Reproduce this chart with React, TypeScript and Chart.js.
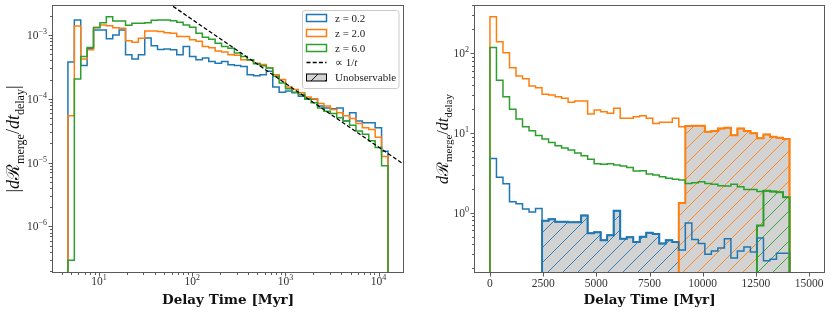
import React, { useEffect, useRef } from "react";
import { Chart, registerables } from "chart.js";
Chart.register(...registerables);

// ---------------- data ----------------
const seriesLabels = ["z = 0.2", "z = 2.0", "z = 6.0"];
const BLUE = "#1f77b4";
const ORANGE = "#ff7f0e";
const GREEN = "#2ca02c";

// left panel: 50 log-spaced bins
const LEFT_EDGE_MIN = 4.64;
const LEFT_EDGE_MAX = 12620;
const LEFT_BINS = 50;

const leftBlue = [3.76e-4, 1.71e-3, 3.33e-4, 6.2e-4, 1.2e-3, 1.2e-3, 8.7e-4, 1.0e-3, 1.2e-3, 4.9e-4,
  4.2e-4, 4.9e-4, 9.0e-4, 6.8e-4, 5.9e-4, 6.05e-4, 5.85e-4, 4.9e-4, 6.6e-4, 4.6e-4,
  4.1e-4, 4.34e-4, 3.85e-4, 3.62e-4, 3.85e-4, 3.41e-4, 3.33e-4, 3.22e-4, 2.39e-4, 2.3e-4,
  2.39e-4, 2.69e-4, 1.53e-4, 1.27e-4, 1.32e-4, 1.24e-4, 1.1e-4, 1.0e-4, 9.8e-5, 7.7e-5,
  7.2e-5, 7.0e-5, 7.2e-5, 4.5e-5, 6.05e-5, 4.5e-5, 4.2e-5, 4.2e-5, 3.5e-5, 1.5e-5];

const leftOrange = [5.4e-5, 1.38e-3, 4.2e-4, 5.85e-4, 1.32e-3, 1.43e-3, 1.4e-3, 1.3e-3, 1.27e-3, 8.1e-4,
  7.7e-4, 8.9e-4, 1.15e-3, 1.15e-3, 1.13e-3, 1.08e-3, 1.06e-3, 9.5e-4, 9.5e-4, 8.4e-4,
  8.0e-4, 6.6e-4, 6.3e-4, 5.6e-4, 5.4e-4, 4.9e-4, 4.8e-4, 4.1e-4, 4.0e-4, 3.6e-4,
  3.45e-4, 3.03e-4, 2.39e-4, 2.0e-4, 1.53e-4, 1.4e-4, 1.24e-4, 1.07e-4, 1.0e-4, 8.45e-5,
  7.7e-5, 6.8e-5, 6.05e-5, 5.4e-5, 4.9e-5, 4.1e-5, 3.5e-5, 3.3e-5, 2.5e-5, 1.25e-5];

const leftGreen = [2.95e-7, 2.04e-4, 4.6e-4, 6.35e-4, 1.3e-3, 1.55e-3, 1.93e-3, 1.65e-3, 1.65e-3, 1.42e-3,
  1.52e-3, 1.52e-3, 1.56e-3, 1.7e-3, 1.71e-3, 1.71e-3, 1.67e-3, 1.59e-3, 1.43e-3, 1.32e-3,
  1.06e-3, 9.2e-4, 8.6e-4, 7.4e-4, 6.6e-4, 6.2e-4, 5.2e-4, 4.6e-4, 4.1e-4, 3.54e-4,
  3.3e-4, 3.03e-4, 2.25e-4, 1.77e-4, 1.43e-4, 1.27e-4, 1.17e-4, 9.8e-5, 8.65e-5, 7.2e-5,
  6.4e-5, 5.9e-5, 5.06e-5, 4.5e-5, 3.84e-5, 3.14e-5, 2.79e-5, 2.19e-5, 1.73e-5, 8.95e-6];

// reference 1/t line (two end points)
const powerLawT = [20, 20000];
const powerLawRate = [8.75e-3, 8.75e-6];

// right panel: 49 linear bins from 0 to 15000 Myr
const RIGHT_EDGE_MAX = 15000;
const RIGHT_BINS = 49;

const rightBlue = [4.8, 2.78, 2.3, 1.37, 1.29, 1.11, 1.02, 1.13, 0.79, 0.83,
  0.77, 0.77, 0.76, 0.76, 0.92, 0.55, 0.57, 0.45, 0.52, 1.06,
  0.47, 0.49, 0.43, 0.5, 0.56, 0.54, 0.41, 0.45, 0.43, 0.34,
  0.74, 0.46, 0.41, 0.3, 0.33, 0.36, 0.47, 0.27, 0.33, 0.37,
  0.32, 0.48, 0.25, 0.26, 0.31, 0.31, 0, 0, 0];

const rightOrange = [288, 140, 102, 66, 52, 48, 39, 37, 30.6, 30.0,
  28.6, 27.2, 24.3, 25.2, 25.2, 17.3, 19.4, 18.5, 17.7, 20.4,
  15.3, 15.3, 16.0, 16.5, 15.3, 13.2, 13.6, 13.6, 15.3, 12.0,
  12.2, 12.3, 12.3, 10.4, 10.6, 11.4, 11.6, 9.4, 11.4, 10.6,
  9.9, 8.6, 9.6, 9.0, 8.7, 8.4, 0, 0, 0];

const rightGreen = [118, 46, 28.6, 19.8, 15, 12, 10.7, 9.3, 8.4, 7.6,
  6.9, 6.5, 6.1, 5.6, 5.2, 4.67, 4.1, 4.05, 4.1, 3.97,
  3.85, 3.7, 3.33, 3.35, 3.05, 2.97, 2.83, 2.7, 2.62, 2.57,
  2.33, 2.38, 2.45, 2.33, 2.27, 2.18, 2.16, 2.27, 2.12, 1.96,
  1.96, 1.84, 1.89, 1.85, 1.8, 1.56, 0, 0, 0];

// unobservable regions (first bin index, value of partially-covered first bin)
const blueUnobsBin = 8;
const orangeUnobsBin = 29;
const orangeUnobsFirst = 1.32;
const greenUnobsBin = 41;
const greenUnobsFirst = 0.69;

// ticks
const leftXMajor = [10, 100, 1000, 10000];
const leftXLabels = [["10", "1"], ["10", "2"], ["10", "3"], ["10", "4"]];
const leftYMajor = [1e-6, 1e-5, 1e-4, 1e-3];
const leftYLabels = [["10", "\u22126"], ["10", "\u22125"], ["10", "\u22124"], ["10", "\u22123"]];
const rightXTicks = [0, 2500, 5000, 7500, 10000, 12500, 15000];
const rightYMajor = [1, 10, 100];
const rightYLabels = [["10", "0"], ["10", "1"], ["10", "2"]];

// ---------------- helpers ----------------
const SERIF = '"Liberation Serif", "Times New Roman", serif';
const TITLE = '"DejaVu Serif", serif';
const FRAME = "#5a5a5a";
const TICKTXT = "#333333";

const leftEdges = Array.from({ length: LEFT_BINS + 1 }, (_, i) =>
  LEFT_EDGE_MIN * Math.pow(LEFT_EDGE_MAX / LEFT_EDGE_MIN, i / LEFT_BINS));
const rightEdges = Array.from({ length: RIGHT_BINS + 1 }, (_, i) => (RIGHT_EDGE_MAX * i) / RIGHT_BINS);

function stepPoints(edges: number[], values: number[], base: number) {
  const pts = [{ x: edges[0], y: base }];
  values.forEach((v, i) => pts.push({ x: edges[i], y: v > 0 ? v : base }));
  pts.push({ x: edges[edges.length - 1], y: base });
  return pts;
}

function unobs(values: number[], start: number, first?: number) {
  return values.map((v, i) => (i < start ? 0 : i === start && first !== undefined ? first : v));
}

function minorLog(lo: number, hi: number) {
  const out: number[] = [];
  for (let e = Math.floor(Math.log10(lo)); e <= Math.ceil(Math.log10(hi)); e++) {
    for (let m = 2; m <= 9; m++) {
      const v = m * Math.pow(10, e);
      if (v >= lo && v <= hi) out.push(v);
    }
  }
  return out;
}

function hatch(color: string, bg: string, s = 15) {
  const c = document.createElement("canvas");
  c.width = s;
  c.height = s;
  const g = c.getContext("2d")!;
  g.fillStyle = bg;
  g.fillRect(0, 0, s, s);
  g.strokeStyle = color;
  g.lineWidth = 0.9;
  g.beginPath();
  for (const k of [-1, 0, 1]) {
    g.moveTo(k * s, s);
    g.lineTo(k * s + s, 0);
  }
  g.stroke();
  return g.createPattern(c, "repeat")!;
}

type Seg = { t: string; f: string; dy?: number };

function drawPow(ctx: CanvasRenderingContext2D, base: string, exp: string, x: number, y: number, align: string) {
  ctx.font = `11.5px ${SERIF}`;
  const wb = ctx.measureText(base).width;
  ctx.font = `8px ${SERIF}`;
  const we = ctx.measureText(exp).width;
  const tot = wb + we;
  const sx = align === "center" ? x - tot / 2 : x - tot;
  ctx.textAlign = "left";
  ctx.font = `11.5px ${SERIF}`;
  ctx.fillText(base, sx, y);
  ctx.font = `8px ${SERIF}`;
  ctx.fillText(exp, sx + wb, y - 5);
}

function drawRich(ctx: CanvasRenderingContext2D, segs: Seg[], cx: number, cy: number) {
  ctx.save();
  ctx.translate(cx, cy);
  ctx.rotate(-Math.PI / 2);
  let tot = 0;
  for (const s of segs) {
    ctx.font = s.f;
    tot += ctx.measureText(s.t).width;
  }
  let x = -tot / 2;
  ctx.textAlign = "left";
  ctx.fillStyle = "#111";
  for (const s of segs) {
    ctx.font = s.f;
    ctx.fillText(s.t, x, 5 + (s.dy || 0));
    x += ctx.measureText(s.t).width;
  }
  ctx.restore();
}

function ySegs(size: number, bars: boolean): Seg[] {
  const n = `${size}px ${SERIF}`;
  const it = `italic ${size}px ${SERIF}`;
  const sub = `${Math.round(size * 0.68)}px ${SERIF}`;
  const dy = size * 0.25;
  const segs: Seg[] = [
    { t: "d", f: it },
    { t: "\u211B", f: `${size}px ${TITLE}` },
    { t: "merge", f: sub, dy },
    { t: "/", f: n },
    { t: "dt", f: it },
    { t: "delay", f: sub, dy },
  ];
  if (bars) return [{ t: "|", f: n }, ...segs, { t: "|", f: n }];
  return segs;
}

function decor(cfg: {
  id: string;
  xMajor: number[];
  xLabels: (string[] | string)[];
  xMinor: number[];
  yMajor: number[];
  yLabels: string[][];
  yMinor: number[];
  yTitle: Seg[];
  yTitleX: number;
  legend?: boolean;
}) {
  return {
    id: cfg.id,
    afterDraw(chart: any) {
      const { ctx, chartArea: ca, scales } = chart;
      const xs = scales.x;
      const ys = scales.y;
      ctx.save();
      ctx.strokeStyle = FRAME;
      ctx.lineWidth = 1;
      ctx.strokeRect(ca.left + 0.5, ca.top + 0.5, ca.right - ca.left - 1, ca.bottom - ca.top - 1);
      const tickX = (v: number, len: number) => {
        const p = Math.round(xs.getPixelForValue(v)) + 0.5;
        ctx.beginPath();
        ctx.moveTo(p, ca.bottom);
        ctx.lineTo(p, ca.bottom + len);
        ctx.stroke();
      };
      const tickY = (v: number, len: number) => {
        const p = Math.round(ys.getPixelForValue(v)) + 0.5;
        ctx.beginPath();
        ctx.moveTo(ca.left, p);
        ctx.lineTo(ca.left - len, p);
        ctx.stroke();
      };
      cfg.xMajor.forEach((v) => tickX(v, 3.5));
      cfg.xMinor.forEach((v) => tickX(v, 2));
      cfg.yMajor.forEach((v) => tickY(v, 3.5));
      cfg.yMinor.forEach((v) => tickY(v, 2));
      ctx.fillStyle = TICKTXT;
      ctx.textBaseline = "alphabetic";
      cfg.xMajor.forEach((v, i) => {
        const p = xs.getPixelForValue(v);
        const lab = cfg.xLabels[i];
        if (Array.isArray(lab)) drawPow(ctx, lab[0], lab[1], p, 285, "center");
        else {
          ctx.font = `11.5px ${SERIF}`;
          ctx.textAlign = "center";
          ctx.fillText(lab, p, 287);
        }
      });
      cfg.yMajor.forEach((v, i) => {
        const p = ys.getPixelForValue(v);
        drawPow(ctx, cfg.yLabels[i][0], cfg.yLabels[i][1], ca.left - 5, p + 4, "right");
      });
      ctx.fillStyle = "#111";
      ctx.font = `bold 13.5px ${TITLE}`;
      ctx.textAlign = "center";
      ctx.fillText("Delay Time [Myr]", (ca.left + ca.right) / 2, 304);
      drawRich(ctx, cfg.yTitle, cfg.yTitleX, (ca.top + ca.bottom) / 2);
      if (cfg.legend) drawLegend(ctx);
      ctx.restore();
    },
  };
}

function drawLegend(ctx: CanvasRenderingContext2D) {
  const x0 = 302.5, y0 = 10.5, w = 96.5, h = 78, r = 2.5;
  ctx.save();
  ctx.beginPath();
  ctx.moveTo(x0 + r, y0);
  ctx.arcTo(x0 + w, y0, x0 + w, y0 + h, r);
  ctx.arcTo(x0 + w, y0 + h, x0, y0 + h, r);
  ctx.arcTo(x0, y0 + h, x0, y0, r);
  ctx.arcTo(x0, y0, x0 + w, y0, r);
  ctx.closePath();
  ctx.fillStyle = "rgba(255,255,255,0.8)";
  ctx.fill();
  ctx.strokeStyle = "#cccccc";
  ctx.lineWidth = 1;
  ctx.stroke();
  const rows = [18, 33, 48, 62.5, 77.5];
  const colors = [BLUE, ORANGE, GREEN];
  const hx = 306.5, hw = 20, tx = 335;
  ctx.font = `11px ${SERIF}`;
  ctx.textAlign = "left";
  for (let i = 0; i < 3; i++) {
    ctx.strokeStyle = colors[i];
    ctx.lineWidth = 1.5;
    ctx.strokeRect(hx, rows[i] - 3.5, hw, 7);
    ctx.fillStyle = "#222";
    ctx.fillText(seriesLabels[i], tx, rows[i] + 3.5);
  }
  ctx.strokeStyle = "#000";
  ctx.lineWidth = 1.3;
  ctx.setLineDash([4, 2.2]);
  ctx.beginPath();
  ctx.moveTo(hx, rows[3]);
  ctx.lineTo(hx + hw, rows[3]);
  ctx.stroke();
  ctx.setLineDash([]);
  ctx.fillStyle = "#222";
  ctx.font = `11px ${SERIF}`;
  const a = "\u221D 1/";
  ctx.fillText(a, tx, rows[3] + 3.5);
  const aw = ctx.measureText(a).width;
  ctx.font = `italic 11px ${SERIF}`;
  ctx.fillText("t", tx + aw, rows[3] + 3.5);
  ctx.fillStyle = hatch("#000", "#d3d3d3", 14);
  ctx.fillRect(hx, rows[4] - 3.5, hw, 7);
  ctx.strokeStyle = "#000";
  ctx.lineWidth = 1;
  ctx.strokeRect(hx, rows[4] - 3.5, hw, 7);
  ctx.fillStyle = "#222";
  ctx.font = `11px ${SERIF}`;
  ctx.fillText("Unobservable", tx, rows[4] + 3.5);
  ctx.restore();
}

function stepDs(data: any[], color: string, order: number, width = 1.5) {
  return {
    data,
    borderColor: color,
    borderWidth: width,
    stepped: "before",
    pointRadius: 0,
    fill: false,
    order,
    borderJoinStyle: "miter",
  };
}

const LXMIN = 3.13, LXMAX = 18750, LYMIN = 1.86e-7, LYMAX = 2.95e-3;
const RXMIN = -750, RXMAX = 15750, RYMIN = 0.175, RYMAX = 404;

function leftConfig(): any {
  return {
    type: "line",
    data: {
      datasets: [
        {
          data: powerLawT.map((t, i) => ({ x: t, y: powerLawRate[i] })),
          borderColor: "#000",
          borderWidth: 1.3,
          borderDash: [4, 2.2],
          pointRadius: 0,
          fill: false,
          order: 0,
        },
        stepDs(stepPoints(leftEdges, leftGreen, 1e-9), GREEN, 1),
        stepDs(stepPoints(leftEdges, leftOrange, 1e-9), ORANGE, 2),
        stepDs(stepPoints(leftEdges, leftBlue, 1e-9), BLUE, 3),
      ],
    },
    options: {
      responsive: false,
      animation: false,
      events: [],
      layout: { padding: { left: 52, top: 5, right: 11, bottom: 41 } },
      plugins: { legend: { display: false }, tooltip: { enabled: false } },
      elements: { line: { tension: 0 } },
      scales: {
        x: { type: "logarithmic", min: LXMIN, max: LXMAX, display: false },
        y: { type: "logarithmic", min: LYMIN, max: LYMAX, display: false },
      },
    },
    plugins: [
      decor({
        id: "decorLeft",
        xMajor: leftXMajor,
        xLabels: leftXLabels,
        xMinor: minorLog(LXMIN, LXMAX),
        yMajor: leftYMajor,
        yLabels: leftYLabels,
        yMinor: minorLog(LYMIN, LYMAX),
        yTitle: ySegs(18, true),
        yTitleX: 14,
        legend: true,
      }),
    ],
  };
}

function rightConfig(): any {
  const base = 0.01;
  const fillDs = (vals: number[], color: string, order: number) => ({
    ...stepDs(stepPoints(rightEdges, vals, base), color, order, 2),
    fill: "start",
    backgroundColor: hatch(color, "#d3d3d3"),
  });
  return {
    type: "line",
    data: {
      datasets: [
        stepDs(stepPoints(rightEdges, rightGreen, base), GREEN, 1),
        stepDs(stepPoints(rightEdges, rightOrange, base), ORANGE, 2),
        stepDs(stepPoints(rightEdges, rightBlue, base), BLUE, 3),
        fillDs(unobs(rightGreen, greenUnobsBin, greenUnobsFirst), GREEN, 4),
        fillDs(unobs(rightOrange, orangeUnobsBin, orangeUnobsFirst), ORANGE, 5),
        fillDs(unobs(rightBlue, blueUnobsBin), BLUE, 6),
      ],
    },
    options: {
      responsive: false,
      animation: false,
      events: [],
      layout: { padding: { left: 59, top: 5, right: 6, bottom: 41 } },
      plugins: { legend: { display: false }, tooltip: { enabled: false }, filler: { propagate: false } },
      elements: { line: { tension: 0 } },
      scales: {
        x: { type: "linear", min: RXMIN, max: RXMAX, display: false },
        y: { type: "logarithmic", min: RYMIN, max: RYMAX, display: false },
      },
    },
    plugins: [
      decor({
        id: "decorRight",
        xMajor: rightXTicks,
        xLabels: rightXTicks.map((v) => String(v)),
        xMinor: [],
        yMajor: rightYMajor,
        yLabels: rightYLabels,
        yMinor: minorLog(RYMIN, RYMAX),
        yTitle: ySegs(16, false),
        yTitleX: 28,
      }),
    ],
  };
}

export default function App() {
  const leftRef = useRef<HTMLCanvasElement>(null);
  const rightRef = useRef<HTMLCanvasElement>(null);
  useEffect(() => {
    const c1 = new Chart(leftRef.current!, leftConfig());
    const c2 = new Chart(rightRef.current!, rightConfig());
    return () => {
      c1.destroy();
      c2.destroy();
    };
  }, []);
  return (
    <div style={{ position: "fixed", left: 0, top: 0, width: 831, height: 314, background: "#fff" }}>
      <canvas ref={leftRef} width={415} height={314}
        style={{ position: "absolute", left: 0, top: 0, width: 415, height: 314 }} />
      <canvas ref={rightRef} width={416} height={314}
        style={{ position: "absolute", left: 415, top: 0, width: 416, height: 314 }} />
    </div>
  );
}
